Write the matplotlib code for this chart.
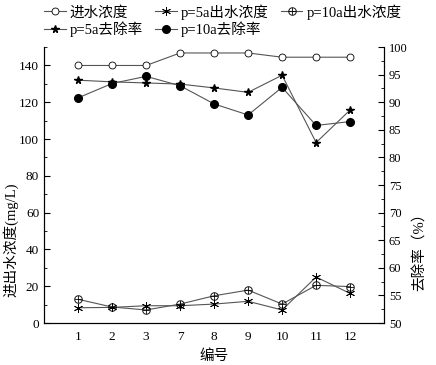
import matplotlib.pyplot as plt
from matplotlib.ticker import MultipleLocator

plt.rcParams['font.family'] = ['Liberation Serif', 'Noto Sans CJK SC']
plt.rcParams['mathtext.fontset'] = 'stix'

SAMPLES = ['1', '2', '3', '7', '8', '9', '10', '11', '12']
INFLUENT = [140, 140, 140, 146.8, 146.8, 146.8, 144.5, 144.5, 144.5]
EFF_5A = [8.3, 8.5, 9.4, 9.4, 10.3, 11.8, 7.1, 25.0, 16.1]
EFF_10A = [12.9, 8.7, 7.1, 10.3, 14.8, 17.9, 10.3, 20.5, 19.8]
REM_5A = [94.0, 93.7, 93.5, 93.3, 92.6, 91.8, 94.9, 82.7, 88.6]
REM_10A = [90.8, 93.4, 94.7, 93.0, 89.7, 87.7, 92.7, 85.8, 86.5]

x = range(len(SAMPLES))
line_kw = dict(color='#555555', linewidth=0.8)

fig = plt.figure(figsize=(4.36, 3.65), dpi=100)
ax = fig.add_axes([0.101, 0.115, 0.78, 0.756])
ax2 = ax.twinx()

h1, = ax.plot(x, INFLUENT, marker='o', markersize=5, markerfacecolor='white',
              markeredgecolor='black', markeredgewidth=0.6, label='进水浓度', **line_kw)
h2, = ax.plot(x, EFF_5A, marker=(6, 2, 0), markersize=6.5, markeredgecolor='black',
              markeredgewidth=0.6, label='p=5a出水浓度', **line_kw)
h3, = ax.plot(x, EFF_10A, marker=r'$\oplus$', markersize=6, markeredgecolor='black',
              markerfacecolor='black', markeredgewidth=0.1, label='p=10a出水浓度', **line_kw)
h4, = ax2.plot(x, REM_5A, marker='*', markersize=5.5, color='#555555', linewidth=0.8,
               markerfacecolor='black', markeredgecolor='black', label='p=5a去除率')
h5, = ax2.plot(x, REM_10A, marker='o', markersize=5.5, color='#555555', linewidth=0.8,
               markerfacecolor='black', markeredgecolor='black', label='p=10a去除率')

ax.set_xlim(-1, 9)
ax.set_ylim(0, 150)
ax2.set_ylim(50, 100)
ax.set_xticks(list(x))
ax.set_xticklabels(SAMPLES)
ax.tick_params(axis='x', length=0, labelsize=9.5, pad=6)

ax.yaxis.set_major_locator(MultipleLocator(20))
ax.yaxis.set_minor_locator(MultipleLocator(10))
ax.tick_params(axis='y', which='both', direction='in', labelsize=9.5)
ax.tick_params(axis='y', which='major', length=4)
ax.tick_params(axis='y', which='minor', length=2.5)

ax2.yaxis.set_major_locator(MultipleLocator(5))
ax2.yaxis.set_minor_locator(MultipleLocator(2.5))
ax2.tick_params(axis='y', which='both', direction='in', labelsize=9)
ax2.tick_params(axis='y', which='major', length=4)
ax2.tick_params(axis='y', which='minor', length=2.5)

for a in (ax, ax2):
    a.spines['top'].set_visible(False)
    for s in a.spines.values():
        s.set_linewidth(0.8)

ax.set_xlabel('编号', fontsize=10.5)
ax.set_ylabel('进出水浓度(mg/L)', fontsize=10.5)
ax.yaxis.set_label_coords(-0.075, 0.30)
ax2.set_ylabel('去除率（%）', fontsize=10.5)
ax2.yaxis.set_label_coords(1.085, 0.27)

fig.legend([h1, h4, h2, h5, h3],
           ['进水浓度', 'p=5a去除率', 'p=5a出水浓度', 'p=10a去除率', 'p=10a出水浓度'],
           ncol=3, loc='upper left', bbox_to_anchor=(0.07, 1.025), frameon=False,
           fontsize=10.5, handlelength=1.5, handletextpad=0.3, columnspacing=0.8,
           labelspacing=0.15)

fig.savefig('out.png', dpi=100)
